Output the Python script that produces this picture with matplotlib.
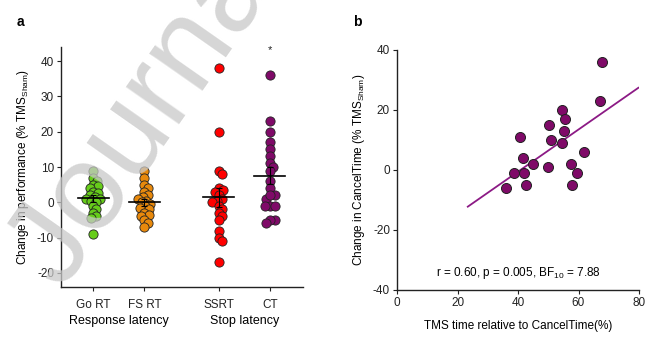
import numpy as np
import matplotlib
matplotlib.use("Agg")
import matplotlib.pyplot as plt
import matplotlib.transforms as mtransforms

plt.rcParams["font.family"] = ["Liberation Sans", "DejaVu Sans"]
plt.rcParams["mathtext.default"] = "regular"

# ---- panel a: change in performance per measure ----
categories = ["Go RT", "FS RT", "SSRT", "CT"]
groups = ["Response latency", "Stop latency"]
go_rt = [9, 7, 6, 5, 4.5, 4, 3, 2.5, 2, 1.5, 1, 1, 0.5, 0, -1, -2, -3, -4, -4.5, -9]
fs_rt = [9, 7, 5, 4, 3, 2, 1.5, 1, 0.5, 0, -0.5, -1, -1.5, -2, -3, -3.5, -4, -5, -6, -7]
ssrt = [38, 20, 9, 8, 4, 3.5, 3, 2, 1, 0.5, 0, -1, -2, -3, -4, -5, -8, -10, -11, -17]
ct = [36, 23, 20, 17, 15, 13, 11, 10, 9, 6, 4, 2, 1, 2, -1, -1, -1, -5, -5, -6]
colors = ["#66cc1a", "#e8890c", "#ff0000", "#7f0a68"]

# ---- panel b: CT change vs TMS timing ----
tms_time = [67.8, 67.2, 54.4, 55.6, 50.1, 55.1, 40.6, 50.9, 54.7, 61.7,
            41.8, 45.1, 50.0, 57.5, 38.6, 42.1, 59.6, 42.7, 57.8, 36.1]
stats_text = "r = 0.60, p = 0.005, BF$_{10}$ = 7.88"

W, H, DPI = 666, 349, 100
fig = plt.figure(figsize=(W / DPI, H / DPI), dpi=DPI)

def px_axes(l, r, t, b):
    return fig.add_axes([l / W, 1 - b / H, (r - l) / W, (b - t) / H])

def style(ax):
    for s in ("top", "right"):
        ax.spines[s].set_visible(False)
    for s in ("left", "bottom"):
        ax.spines[s].set_linewidth(1.0)
        ax.spines[s].set_color("#222222")
    ax.tick_params(direction="out", length=3, width=0.8, labelsize=8.5,
                   colors="#222222", pad=2)

def swarm_offsets(vals, px_per_x, px_per_y, dmin=4.6, step=0.7):
    order = np.argsort(vals)[::-1]
    placed = []
    offs = np.zeros(len(vals))
    for i in order:
        y = vals[i] * px_per_y
        k = 0
        while True:
            cands = [0.0] if k == 0 else [k * step, -k * step]
            ok = None
            for c in cands:
                if all((c - px) ** 2 + (y - py) ** 2 >= dmin ** 2 for px, py in placed):
                    ok = c
                    break
            if ok is not None:
                placed.append((ok, y))
                offs[i] = ok / px_per_x
                break
            k += 1
    return offs

# panel a
axa = px_axes(61, 303, 47, 287)
style(axa)
positions = [1, 2, 3.45, 4.45]
axa.set_xlim(0.37, 5.1)
axa.set_ylim(-24, 44)
px_x = 242 / (5.1 - 0.37)
px_y = 240 / 68
for pos, vals, c in zip(positions, [go_rt, fs_rt, ssrt, ct], colors):
    v = np.array(vals, dtype=float)
    off = swarm_offsets(v, px_x, px_y)
    axa.scatter(pos + off, v, s=44, color=c, edgecolor="#222222",
                linewidth=0.6, zorder=3)
    m = v.mean()
    sem = v.std(ddof=1) / np.sqrt(len(v))
    axa.plot([pos - 0.3, pos + 0.3], [m, m], color="black", lw=1.2, zorder=4)
    axa.errorbar(pos, m, yerr=sem, color="black", lw=0.8, capsize=2.5,
                 capthick=0.8, zorder=4)
axa.text(positions[3], 43.0, "*", ha="center", va="center", fontsize=8,
         color="#222222")
axa.set_yticks([-20, -10, 0, 10, 20, 30, 40])
axa.set_yticklabels(["-20", "-10", "0", "10", "20", "30", "40"])
axa.set_xticks(positions)
axa.set_xticklabels(categories, fontsize=8.5)
axa.tick_params(axis="x", pad=6)
trans = mtransforms.blended_transform_factory(axa.transData, axa.transAxes)
axa.text((positions[0] + positions[1]) / 2, -0.14, groups[0], transform=trans,
         ha="center", va="center", fontsize=9)
axa.text((positions[2] + positions[3]) / 2, -0.14, groups[1], transform=trans,
         ha="center", va="center", fontsize=9)
axa.set_ylabel("Change in performance (% TMS$_{Sham}$)", fontsize=8.5,
               labelpad=4)

# panel b
axb = px_axes(397, 639, 50, 290)
style(axb)
axb.set_xlim(0, 80)
axb.set_ylim(-40, 40)
x = np.array(tms_time)
y = np.array(ct, dtype=float)
slope, intercept = np.polyfit(x, y, 1)
xl = np.array([23.4, 79.8])
axb.plot(xl, slope * xl + intercept, color="#8c1a85", lw=1.3, zorder=2)
axb.scatter(x, y, s=52, color="#7f0a68", edgecolor="#222222", linewidth=0.7,
            zorder=3)
axb.set_xticks([0, 20, 40, 60, 80])
axb.set_yticks([-40, -20, 0, 20, 40])
axb.set_yticklabels(["-40", "-20", "0", "20", "40"])
axb.text(40, -34.3, stats_text, ha="center", va="center", fontsize=8.5)
axb.set_xlabel("TMS time relative to CancelTime(%)", fontsize=8.5, labelpad=8)
axb.set_ylabel("Change in CancelTime (% TMS$_{Sham}$)", fontsize=8.5,
               labelpad=4)

# panel letters
fig.text(17 / W, 1 - 22 / H, "a", fontsize=10, fontweight="bold",
         ha="left", va="center")
fig.text(353 / W, 1 - 22 / H, "b", fontsize=10, fontweight="bold",
         ha="left", va="center")

# light watermark across the left panel
fig.text(150 / W, 1 - 108 / H, "Journal", fontsize=88, color="#c8c8c8",
         alpha=0.75, rotation=55, rotation_mode="anchor",
         ha="center", va="center", zorder=10)

fig.savefig("out.png", dpi=DPI)
